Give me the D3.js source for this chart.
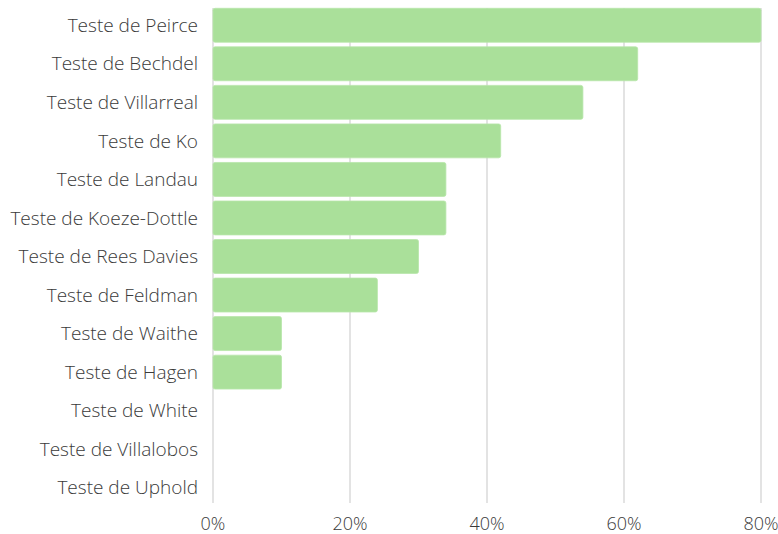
<!DOCTYPE html>
<html>
<head>
<meta charset="utf-8">
<script src="https://cdn.jsdelivr.net/npm/d3@7"></script>
<style>
  body { margin: 0; background: #fff; }
  text { font-family: "Open Sans", sans-serif; font-weight: 300; fill: #3a3a3a; }
</style>
</head>
<body>
<div id="chart"></div>
<script>
var categories = ["Teste de Peirce", "Teste de Bechdel", "Teste de Villarreal", "Teste de Ko",
  "Teste de Landau", "Teste de Koeze-Dottle", "Teste de Rees Davies", "Teste de Feldman",
  "Teste de Waithe", "Teste de Hagen", "Teste de White", "Teste de Villalobos", "Teste de Uphold"];
var values = [80, 62, 54, 42, 34, 34, 30, 24, 10, 10, 0, 0, 0];
var ticks = [0, 20, 40, 60, 80];

var width = 778, height = 534;
var plot = {left: 213, right: 761, top: 6, bottom: 507};

var svg = d3.select("#chart")
  .append("svg")
    .attr("width", width)
    .attr("height", height);

var x = d3.scaleLinear()
  .domain([0, 80])
  .range([plot.left, plot.right]);

var y = d3.scaleBand()
  .domain(categories)
  .range([plot.top, plot.bottom])
  .paddingInner(0.12)
  .paddingOuter(0.06);

// gridlines
svg.append("g")
  .selectAll("line")
  .data(ticks)
  .enter()
  .append("line")
    .attr("x1", function(d) { return x(d); })
    .attr("x2", function(d) { return x(d); })
    .attr("y1", 8)
    .attr("y2", 503)
    .attr("stroke", "#d0d0d0")
    .attr("stroke-width", 1.2);

// bars
svg.append("g")
  .selectAll("rect")
  .data(values.map(function(v, i) { return {name: categories[i], value: v}; }).filter(function(d) { return d.value > 0; }))
  .enter()
  .append("rect")
    .attr("x", x(0))
    .attr("y", function(d) { return y(d.name); })
    .attr("width", function(d) { return x(d.value) - x(0); })
    .attr("height", y.bandwidth())
    .attr("rx", 2)
    .attr("fill", "#aae09a")
    .attr("stroke", "#b8e6aa")
    .attr("stroke-width", 0.8);

// category labels
svg.append("g")
  .selectAll("text")
  .data(categories)
  .enter()
  .append("text")
    .attr("x", 198)
    .attr("y", function(d) { return y(d) + y.bandwidth() / 2; })
    .attr("dy", "0.35em")
    .attr("text-anchor", "end")
    .attr("font-size", 19)
    .text(function(d) { return d; });

// x tick labels
svg.append("g")
  .selectAll("text")
  .data(ticks)
  .enter()
  .append("text")
    .attr("x", function(d) { return x(d); })
    .attr("y", 524)
    .attr("dy", "0.35em")
    .attr("text-anchor", "middle")
    .attr("font-size", 18)
    .text(function(d) { return d + "%"; });
</script>
</body>
</html>
